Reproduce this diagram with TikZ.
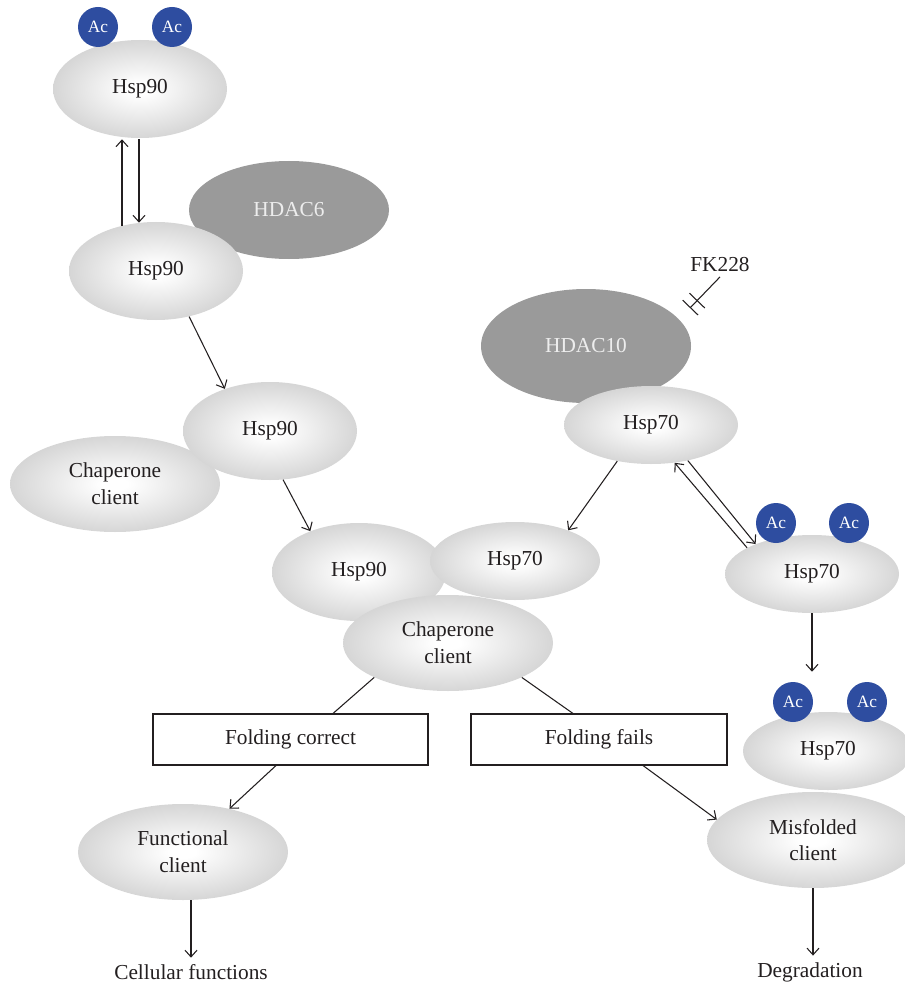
\documentclass[tikz,border=0pt]{standalone}
\usepackage{fontspec}
\setmainfont{Liberation Serif}
\usetikzlibrary{shapes.geometric,arrows.meta,calc}
\definecolor{blobgray}{HTML}{C3C3C3}
\definecolor{hdacgray}{HTML}{9A9A9A}
\definecolor{acblue}{HTML}{2E4DA0}
\definecolor{txt}{HTML}{231F20}
\pgfdeclareradialshading{blob}{\pgfpoint{0bp}{0bp}}{color(0bp)=(white); color(3bp)=(white); color(35bp)=(blobgray); color(50bp)=(blobgray)}
\begin{document}
\begin{tikzpicture}[x=0.75pt,y=-0.75pt,
  font=\fontsize{16}{20}\selectfont, text=txt,
  blob/.style 2 args={ellipse, shading=blob, draw=none, minimum width=#1*1.5pt, minimum height=#2*1.5pt, inner sep=0pt, align=center},
  hdac/.style 2 args={ellipse, fill=hdacgray, draw=none, minimum width=#1*1.5pt, minimum height=#2*1.5pt, inner sep=0pt, text=white!93!black},
  ac/.style={circle, fill=acblue, minimum size=30pt, inner sep=0pt, text=white, font=\fontsize{13}{15}\selectfont},
  box/.style={draw=txt, line width=0.8pt, fill=white, minimum width=#1*0.75pt, minimum height=38.25pt, inner sep=0pt},
  arr/.style={draw=txt, line width=0.8pt, -{Straight Barb[length=5pt,width=9pt]}},
  ln/.style={draw=txt, line width=0.8pt}
]
\useasboundingbox (0,0) rectangle (904,984);
% ellipses
\node[hdac={100}{49}] (hdac6) at (289,210) {HDAC6};
\node[blob={87}{49}] (hspA) at (140,89) {Hsp90};
\node[ac] (acA1) at (98,27) {Ac};
\node[ac] (acA2) at (172,27) {Ac};
\node[blob={87}{49}] (hspB) at (156,271) {Hsp90};
\node[blob={105}{48}] (clientL) at (115,484) {Chaperone\\client};
\node[blob={87}{49}] (hspC) at (270,431) {Hsp90};
\node[blob={87}{49}] (hspM) at (359,572) {Hsp90};
\node[blob={85}{39}] (hsp70M) at (515,561) {Hsp70};
\node[blob={105}{48}] (clientM) at (448,643) {Chaperone\\client};
\node[hdac={105}{57}] (hdac10) at (586,346) {HDAC10};
\node[blob={87}{39}] (hsp70T) at (651,425) {Hsp70};
\node[blob={87}{39}] (hsp70A) at (812,574) {Hsp70};
\node[ac] (acB1) at (776,523) {Ac};
\node[ac] (acB2) at (849,523) {Ac};
\node[blob={85}{39}] (hsp70L) at (828,751) {Hsp70};
\node[ac] (acC1) at (793,702) {Ac};
\node[ac] (acC2) at (867,702) {Ac};
\node[blob={106}{48}] (misf) at (813,840) {Misfolded\\client};
\node[blob={105}{48}] (func) at (183,852) {Functional\\client};
% boxes and texts
\node[box={275}] (fc) at (290.5,739.5) {Folding correct};
\node[box={256}] (ff) at (599,739.5) {Folding fails};
\node (cell) at (191,972) {Cellular functions};
\node (degr) at (810,972) {Degradation};
\node (fk) at (720,265) {FK228};
\coordinate (fkend) at (690,308);
% connectors
\draw[arr] ($(hspB.north)+(-34,4)$) -- ($(hspA.south)+(-18,1)$);
\draw[arr] ($(hspA.south)+(-1,1)$) -- ($(hspB.north)+(-17,1)$);
\draw[arr] (hspB.-54) -- (hspC.137);
\draw[arr] (hspC.-75) -- (hspM.140);
\draw[arr] (hsp70T.227) -- (hsp70M.30);
\draw[arr] (hsp70A.158) -- (hsp70T.-58);
\draw[arr] (hsp70T.-44) -- (hsp70A.152);
\draw[ln, -{Bar[width=16pt,sep=6.5pt]Bar[width=16pt]}] (fk.south) -- (fkend);
\draw[arr, shorten >=7.5pt] (hsp70A.south) -- (hsp70A.south |- acC1.north);
\draw[ln] (clientM.205) -- ($(fc.north)+(42.5,0)$);
\draw[ln] (clientM.-25) -- ($(ff.north)+(-26,0)$);
\draw[arr] ($(fc.south)+(-14.5,0)$) -- (func.43);
\draw[arr] ($(ff.south)+(44,0)$) -- (misf.168);
\draw[arr] (func.south -| cell.north) -- ($(cell.north)+(0,-2)$);
\draw[arr] (misf.south) -- ($(misf.south |- degr.north)+(0,-2)$);
\end{tikzpicture}
\end{document}
